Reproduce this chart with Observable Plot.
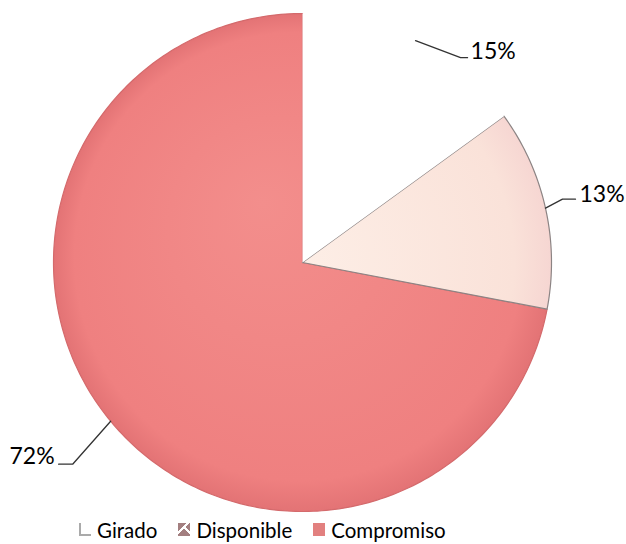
<!DOCTYPE html>
<html>
<head>
<meta charset="utf-8">
<script src="https://cdn.jsdelivr.net/npm/d3@7"></script>
<script src="https://cdn.jsdelivr.net/npm/@observablehq/plot@0.6"></script>
<style>
  html, body { margin: 0; padding: 0; background: #fff; }
  #chart { width: 626px; }
  .legend { display: flex; align-items: center; height: 29px; padding-left: 79px;
            font-family: Lato, "Open Sans", sans-serif; font-size: 20.5px; color: #000; }
  .legend .item { display: flex; align-items: center; margin-right: 21px; }
  .legend .sw { width: 12px; height: 13px; margin-right: 6px; box-sizing: border-box; }
</style>
</head>
<body>
<div id="chart"></div>
<script>
// ---- data ----
const categories = ["Girado", "Disponible", "Compromiso"];
const values = [15, 13, 72];
const percentLabels = ["15%", "13%", "72%"];

// ---- styles (kept out of the data) ----
const fills = {Girado: "#ffffff", Disponible: "url(#gDisp)", Compromiso: "url(#gComp)"};
const strokes = {Girado: "none", Disponible: "#8c8484", Compromiso: "#d46a6c"};
const swatchStyle = {
  Girado: "background:#fff;border-left:2px solid #aaa;border-bottom:2px solid #aaa;",
  Disponible: "background:linear-gradient(135deg, #a37f80 0 35%, #fff 35% 45%, transparent 45%), linear-gradient(225deg, #a37f80 0 35%, #fff 35% 45%, #a37f80 45%);",
  Compromiso: "background:#e2807f;"
};
// leader layout in px offsets from the slice mid-angle point on the rim
const leader = {
  Girado: {elbow: [45, 17], end: [52, 17], dx: 3, dy: -6, anchor: "start"},
  Disponible: {elbow: [17, -9], end: [30, -9], dx: 4, dy: -5, anchor: "start"},
  Compromiso: {elbow: [-38, 43], end: [-52, 43], dx: -4, dy: -8, anchor: "end"}
};

const R = 249; // px per unit radius
const W = 626, H = 515, CX = 302, CY = 262;

const rows = categories.map((c, i) => ({name: c, value: values[i], label: percentLabels[i]}));
const arcs = d3.pie().sort(null).value(d => d.value)(rows);

function pt(a, r = 1) { return [Math.sin(a) * r, Math.cos(a) * r]; }

const slicePts = {};
for (const a of arcs) {
  const n = Math.max(2, Math.ceil((a.endAngle - a.startAngle) / (Math.PI / 180)));
  const pts = [{name: a.data.name, x: 0, y: 0}];
  for (let k = 0; k <= n; k++) {
    const t = a.startAngle + (a.endAngle - a.startAngle) * k / n;
    const [x, y] = pt(t);
    pts.push({name: a.data.name, x, y});
  }
  pts.push({name: a.data.name, x: 0, y: 0});
  slicePts[a.data.name] = pts;
}

const leaderLines = [];
const textRows = [];
for (const a of arcs) {
  const L = leader[a.data.name];
  const mid = (a.startAngle + a.endAngle) / 2;
  const [x0, y0] = pt(mid);
  const e = [x0 + L.elbow[0] / R, y0 - L.elbow[1] / R];
  const f = [x0 + L.end[0] / R, y0 - L.end[1] / R];
  leaderLines.push({name: a.data.name, x: x0, y: y0}, {name: a.data.name, x: e[0], y: e[1]}, {name: a.data.name, x: f[0], y: f[1]});
  textRows.push({x: f[0], y: f[1], label: a.data.label, dx: L.dx, dy: L.dy, anchor: L.anchor});
}

const marks = [];
for (const name of ["Compromiso", "Disponible", "Girado"]) {
  marks.push(Plot.line(slicePts[name], {x: "x", y: "y", fill: fills[name], stroke: strokes[name], strokeWidth: 1.2, curve: "linear"}));
}
marks.push(Plot.line(leaderLines, {x: "x", y: "y", z: "name", stroke: "#333", strokeWidth: 1.3}));
for (const t of textRows) {
  marks.push(Plot.text([t], {x: "x", y: "y", text: "label", dx: t.dx, dy: t.dy, textAnchor: t.anchor,
    fontSize: 23, fill: "#000", fontFamily: "Lato, 'Open Sans', sans-serif"}));
}

const svg = Plot.plot({
  width: W, height: H,
  marginTop: 0, marginBottom: 0, marginLeft: 0, marginRight: 0,
  x: {domain: [-CX / R, (W - CX) / R], axis: null},
  y: {domain: [-(H - CY) / R, CY / R], axis: null},
  style: {background: "#fff", overflow: "visible"},
  marks
});

const defs = d3.select(svg).insert("defs", ":first-child");
const g1 = defs.append("radialGradient").attr("id", "gComp").attr("gradientUnits", "userSpaceOnUse")
  .attr("cx", CX).attr("cy", CY).attr("r", R).attr("fx", CX - 40).attr("fy", CY - 60);
g1.append("stop").attr("offset", "0").attr("stop-color", "#f38e8c");
g1.append("stop").attr("offset", "0.9").attr("stop-color", "#ef8080");
g1.append("stop").attr("offset", "1").attr("stop-color", "#e37375");
const g2 = defs.append("radialGradient").attr("id", "gDisp").attr("gradientUnits", "userSpaceOnUse")
  .attr("cx", CX).attr("cy", CY).attr("r", R);
g2.append("stop").attr("offset", "0").attr("stop-color", "#fdeee6");
g2.append("stop").attr("offset", "0.85").attr("stop-color", "#fae2d9");
g2.append("stop").attr("offset", "1").attr("stop-color", "#f6d6d2");

document.getElementById("chart").appendChild(svg);

const legend = document.createElement("div");
legend.className = "legend";
for (const c of categories) {
  const it = document.createElement("div");
  it.className = "item";
  const sw = document.createElement("span");
  sw.className = "sw";
  sw.setAttribute("style", swatchStyle[c]);
  const tx = document.createElement("span");
  tx.textContent = c;
  it.appendChild(sw); it.appendChild(tx);
  legend.appendChild(it);
}
document.getElementById("chart").appendChild(legend);
</script>
</body>
</html>
